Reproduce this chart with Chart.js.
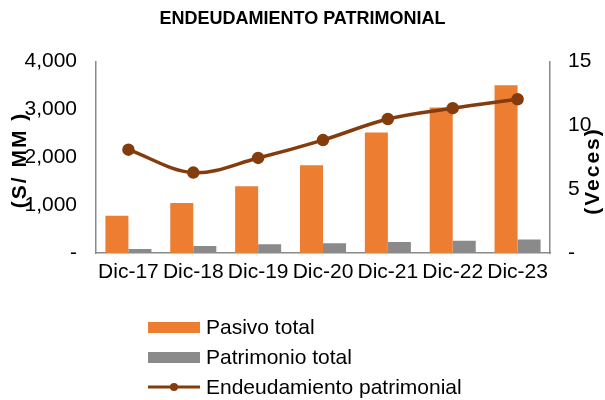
<!DOCTYPE html>
<html>
<head>
<meta charset="utf-8">
<script src="https://cdn.jsdelivr.net/npm/chart.js@4"></script>
<style>
  body { margin: 0; background: #fff; }
</style>
</head>
<body>
<canvas id="chart" width="605" height="400"></canvas>
<script>
const categories = ['Dic-17', 'Dic-18', 'Dic-19', 'Dic-20', 'Dic-21', 'Dic-22', 'Dic-23'];
const pasivoTotal = [780, 1045, 1395, 1835, 2520, 3040, 3505];
const patrimonioTotal = [85, 148, 183, 205, 232, 255, 282];
const endeudamiento = [8.1, 6.3, 7.45, 8.85, 10.5, 11.35, 12.05];

const FONT = "'Liberation Sans', Arial, sans-serif";

// axis titles and the stacked legend are drawn by hand
const extras = {
    id: 'extras',
    afterDraw(chart) {
        const ctx = chart.ctx;
        ctx.save();
        ctx.fillStyle = '#000';
        ctx.font = 'bold 21px ' + FONT;
        ctx.letterSpacing = '2px';
        ctx.textAlign = 'center';
        ctx.textBaseline = 'middle';

        ctx.save();
        ctx.translate(20, 160);
        ctx.rotate(-Math.PI / 2);
        ctx.fillText('(S/ MM )', 0, 0);
        ctx.restore();

        ctx.save();
        ctx.translate(593, 171);
        ctx.rotate(-Math.PI / 2);
        ctx.fillText('(Veces)', 0, 0);
        ctx.restore();
        ctx.letterSpacing = '0px';

        // legend
        const x = 148, w = 52;
        const rows = [327, 357, 387];
        ctx.font = '21px ' + FONT;
        ctx.textAlign = 'left';
        chart.data.datasets.forEach((ds, i) => {
            const y = rows[i];
            if (ds.type === 'line') {
                ctx.strokeStyle = ds.borderColor;
                ctx.lineWidth = 3;
                ctx.beginPath();
                ctx.moveTo(x, y);
                ctx.lineTo(x + w, y);
                ctx.stroke();
                ctx.fillStyle = ds.borderColor;
                ctx.beginPath();
                ctx.arc(x + w / 2, y, 4, 0, Math.PI * 2);
                ctx.fill();
            } else {
                ctx.fillStyle = ds.backgroundColor;
                ctx.fillRect(x, y - 5, w, 11);
            }
            ctx.fillStyle = '#000';
            ctx.fillText(ds.label, x + w + 6, y + 1);
        });
        ctx.restore();
    }
};

const ctx = document.getElementById('chart').getContext('2d');
const chart = new Chart(ctx, {
    data: {
        labels: categories,
        datasets: [
            {
                type: 'bar',
                label: 'Pasivo total',
                data: pasivoTotal,
                backgroundColor: '#ED7D31',
                yAxisID: 'y',
                order: 1
            },
            {
                type: 'bar',
                label: 'Patrimonio total',
                data: patrimonioTotal,
                backgroundColor: '#8A8A8A',
                yAxisID: 'y',
                order: 1
            },
            {
                type: 'line',
                label: 'Endeudamiento patrimonial',
                data: endeudamiento,
                borderColor: '#843C0C',
                backgroundColor: '#843C0C',
                borderWidth: 3.5,
                pointRadius: 4.5,
                pointBackgroundColor: '#843C0C',
                pointBorderColor: '#843C0C',
                tension: 0.35,
                yAxisID: 'y2',
                order: 0
            }
        ]
    },
    options: {
        responsive: false,
        animation: false,
        layout: { padding: { left: 0, right: 0, top: 0, bottom: 112 } },
        datasets: {
            bar: { categoryPercentage: 0.71, barPercentage: 1.0 }
        },
        plugins: {
            legend: { display: false },
            tooltip: { enabled: false },
            title: {
                display: true,
                text: 'ENDEUDAMIENTO PATRIMONIAL',
                color: '#000',
                font: { family: FONT, size: 18, weight: 'bold' },
                padding: { top: 8, bottom: 32 }
            }
        },
        scales: {
            x: {
                grid: { display: false, drawTicks: false },
                border: { color: '#8A8A8A', width: 1.5 },
                ticks: { color: '#000', font: { family: FONT, size: 21 }, padding: 7, maxRotation: 0, autoSkip: false },
                afterFit: s => { s.height = 35; }
            },
            y: {
                position: 'left',
                min: 0,
                max: 4000,
                grid: { display: false, drawOnChartArea: false, drawTicks: true, tickLength: 6, tickColor: '#8A8A8A' },
                border: { color: '#8A8A8A', width: 1.5 },
                ticks: {
                    stepSize: 1000,
                    color: '#000',
                    padding: 13,
                    font: { family: FONT, size: 21 },
                    callback: v => v === 0 ? '-' : v.toLocaleString('en-US')
                },
                afterFit: s => { s.width = 96; }
            },
            y2: {
                position: 'right',
                min: 0,
                max: 15,
                grid: { display: false, drawOnChartArea: false, drawTicks: true, tickLength: 6, tickColor: '#8A8A8A' },
                border: { color: '#8A8A8A', width: 1.5 },
                ticks: {
                    stepSize: 5,
                    color: '#000',
                    padding: 12,
                    font: { family: FONT, size: 21 },
                    callback: v => v === 0 ? '-' : v
                },
                afterFit: s => { s.width = 55; }
            }
        }
    },
    plugins: [extras]
});
</script>
</body>
</html>
